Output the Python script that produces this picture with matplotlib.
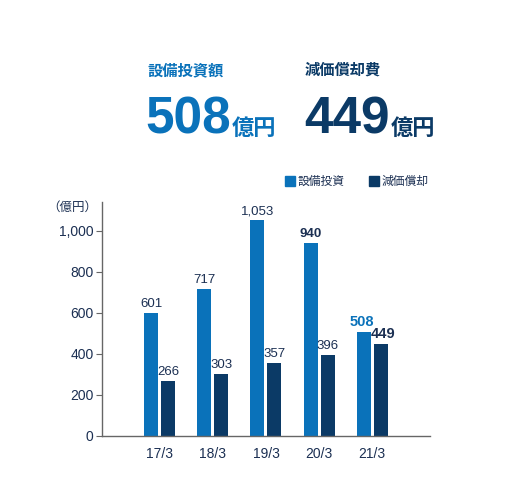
import matplotlib
matplotlib.use('Agg')
import matplotlib.pyplot as plt
import numpy as np

# data
years = ['17/3', '18/3', '19/3', '20/3', '21/3']
capex = [601, 717, 1053, 940, 508]
depr = [266, 303, 357, 396, 449]
capex_labels = ['601', '717', '1,053', '940', '508']
depr_labels = ['266', '303', '357', '396', '449']

blue = '#0A72BA'
navy = '#0B3A66'
txt = '#1B2F52'
num_font = ['Liberation Sans', 'Noto Sans CJK JP', 'DejaVu Sans']
jp_font = ['Noto Sans CJK JP', 'DejaVu Sans']

plt.rcParams['font.family'] = num_font

fig = plt.figure(figsize=(5.2, 4.8), dpi=100)
ax = fig.add_axes([0.196, 0.092, 0.631, 0.487])

x = np.arange(len(years))
w = 0.264
off = 0.16
ax.bar(x - off, capex, w, color=blue)
ax.bar(x + off, depr, w, color=navy)

for i in range(len(years)):
    wc = 'bold' if i >= 3 else 'normal'
    wd = 'bold' if i == 4 else 'normal'
    col_c = blue if i == 4 else txt
    fs = 10.5 if i == 4 else 9.5
    dx = 0.04 if i == 4 else 0
    ax.text(x[i] - off - dx, capex[i] + 14, capex_labels[i], ha='center', va='bottom',
            fontsize=fs, color=col_c, fontweight=wc)
    ax.text(x[i] + off + dx, depr[i] + 14, depr_labels[i],
            ha='center', va='bottom', fontsize=fs, color=txt, fontweight=wd)

ax.set_xlim(-1.09, 5.09)
ax.set_ylim(0, 1141)
ax.set_yticks([0, 200, 400, 600, 800, 1000])
ax.set_yticklabels(['0', '200', '400', '600', '800', '1,000'])
ax.set_xticks(x)
ax.set_xticklabels(years)
for s in ['top', 'right']:
    ax.spines[s].set_visible(False)
for s in ['left', 'bottom']:
    ax.spines[s].set_color('#666666')
    ax.spines[s].set_linewidth(1.0)
ax.tick_params(axis='y', length=4, color='#666666', labelsize=10, labelcolor=txt, pad=2)
ax.tick_params(axis='x', length=0, labelsize=10, labelcolor=txt, pad=8)

fig.text(97 / 520, 1 - 207 / 480, '（億円）', fontsize=9, color=txt, family=jp_font,
         ha='right', va='center')

# header
fig.text(147 / 520, 1 - 70 / 480, '設備投資額', fontsize=11, color=blue, family=jp_font,
         fontweight='bold', ha='left', va='center')
fig.text(305 / 520, 1 - 70 / 480, '減価償却費', fontsize=11, color=navy, family=jp_font,
         fontweight='bold', ha='left', va='center')
t1 = fig.text(145 / 520, 1 - 133 / 480, '508', fontsize=37, color=blue, fontweight='bold',
              ha='left', va='baseline')
t2 = fig.text(304 / 520, 1 - 133 / 480, '449', fontsize=37, color=navy, fontweight='bold',
              ha='left', va='baseline')
fig.canvas.draw()
r = fig.canvas.get_renderer()
e1 = t1.get_window_extent(r)
e2 = t2.get_window_extent(r)
fig.text(e1.x1 / 520 + 1 / 520, 1 - 135 / 480, '億円', fontsize=16, color=blue, family=jp_font,
         fontweight='bold', ha='left', va='baseline')
fig.text(e2.x1 / 520 + 1 / 520, 1 - 135 / 480, '億円', fontsize=16, color=navy, family=jp_font,
         fontweight='bold', ha='left', va='baseline')

# legend
fig.patches.append(plt.Rectangle((285 / 520, 1 - 186 / 480), 10 / 520, 10 / 480,
                                 transform=fig.transFigure, color=blue))
fig.text(298 / 520, 1 - 181 / 480, '設備投資', fontsize=8.5, color=txt, family=jp_font,
         ha='left', va='center')
fig.patches.append(plt.Rectangle((369 / 520, 1 - 186 / 480), 10 / 520, 10 / 480,
                                 transform=fig.transFigure, color=navy))
fig.text(382 / 520, 1 - 181 / 480, '減価償却', fontsize=8.5, color=txt, family=jp_font,
         ha='left', va='center')

fig.savefig('out.png', dpi=100)
